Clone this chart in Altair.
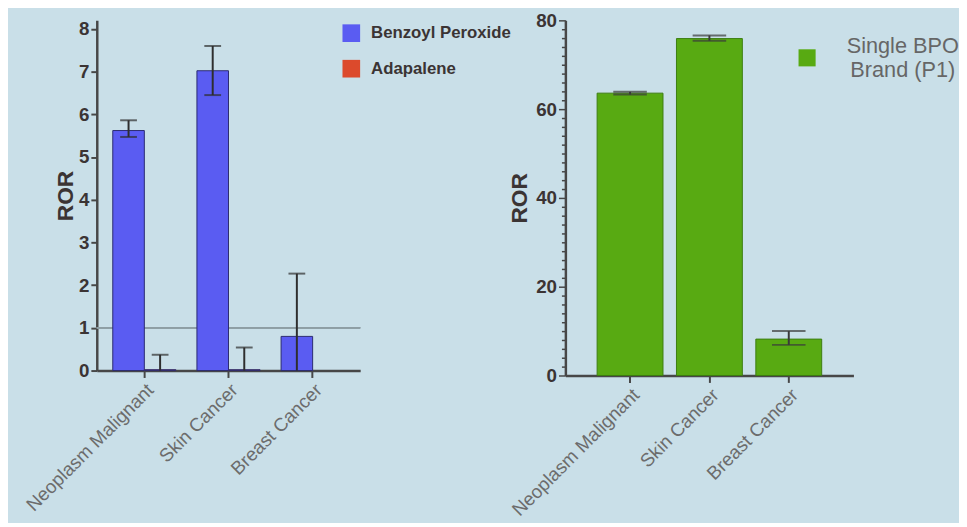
import altair as alt
import pandas as pd

# ---------------- data ----------------
categories = ["Neoplasm Malignant", "Skin Cancer", "Breast Cancer"]
left_series = ["Benzoyl Peroxide", "Adapalene"]
bpo_ror = [5.62, 7.02, 0.80]
bpo_low = [5.47, 6.45, 0.0]
bpo_high = [5.86, 7.60, 2.27]
ada_categories = ["Neoplasm Malignant", "Skin Cancer"]
ada_ror = [0.02, 0.02]
ada_low = [0.0, 0.0]
ada_high = [0.37, 0.54]
reference_ror = 1

right_series = ["Single BPO|Brand (P1)"]
p1_ror = [63.6, 75.9, 8.2]
p1_low = [63.3, 75.4, 6.9]
p1_high = [63.9, 76.6, 10.0]

left_ticks = [0, 1, 2, 3, 4, 5, 6, 7, 8]
right_ticks = list(range(0, 81, 2))

# ---------------- tables ----------------
left_rows = []
for c, v, lo, hi in zip(categories, bpo_ror, bpo_low, bpo_high):
    left_rows.append(dict(category=c, series=left_series[0], ror=v, low=lo, high=hi))
for c, v, lo, hi in zip(ada_categories, ada_ror, ada_low, ada_high):
    left_rows.append(dict(category=c, series=left_series[1], ror=v, low=lo, high=hi))
left_df = pd.DataFrame(left_rows)

right_df = pd.DataFrame(dict(category=categories, series=right_series * 3,
                             ror=p1_ror, low=p1_low, high=p1_high))

FONT = "Liberation Sans"
AX = "#474747"
TXT = "#3b3434"

# ---------------- left panel ----------------
xl = alt.X("category:N", sort=categories,
           scale=alt.Scale(paddingInner=0.25, paddingOuter=0.19),
           axis=alt.Axis(title=None, labelAngle=-45, labelFontSize=19, labelColor="#6c6c6c",
                         labelFont=FONT, labelPadding=3, labelLimit=0, tickSize=7, tickWidth=2,
                         tickColor=AX, domainColor=AX, domainWidth=2.5))
xo = alt.XOffset("series:N", sort=left_series, scale=alt.Scale(paddingInner=0, paddingOuter=0))
yl = alt.Y("ror:Q", scale=alt.Scale(domain=[0, 8.2], nice=False),
           axis=alt.Axis(values=left_ticks, tickCount=20, format="d", title="ROR", titleFontSize=23,
                         titleFont=FONT, titleColor=TXT, titleFontWeight="bold", titleX=-20,
                         labelFontSize=19, labelFontWeight="bold", labelColor=TXT, labelFont=FONT,
                         tickSize=6, tickWidth=2, tickColor=AX, domainColor=AX, domainWidth=2.5,
                         grid=False))
cl = alt.Color("series:N", sort=left_series,
               scale=alt.Scale(domain=left_series, range=["#5a5cf2", "#dc4a2c"]),
               legend=alt.Legend(title=None, orient="none", legendX=249, legendY=4,
                                 symbolType="square", symbolSize=320, symbolStrokeWidth=0,
                                 labelFontSize=17, labelFontWeight="bold", labelColor=TXT,
                                 labelFont=FONT, labelOffset=11, rowPadding=18, padding=0))

base_l = alt.Chart(left_df)
ref = base_l.mark_rule(color="#8e9ea4", strokeWidth=1.5).encode(y=alt.datum(reference_ror))
bars_l = base_l.mark_bar(stroke="#2b2b70", strokeWidth=1).encode(x=xl, xOffset=xo, y=yl, color=cl)
err_l = base_l.mark_rule(color="#2e2e2e", strokeWidth=2).encode(
    x=xl, xOffset=xo, y="low:Q", y2="high:Q")
cap_hi_l = base_l.mark_tick(color="#2e2e2e", size=17, thickness=2, orient="horizontal").encode(
    x=xl, xOffset=xo, y="high:Q")
cap_lo_l = base_l.transform_filter("datum.low > 0").mark_tick(
    color="#2e2e2e", size=17, thickness=2, orient="horizontal").encode(x=xl, xOffset=xo, y="low:Q")

left = alt.layer(ref, bars_l, err_l, cap_hi_l, cap_lo_l).properties(width=267, height=355)

# ---------------- right panel ----------------
xr = alt.X("category:N", sort=categories,
           scale=alt.Scale(paddingInner=0.17, paddingOuter=0.4),
           axis=alt.Axis(title=None, labelAngle=-45, labelFontSize=19, labelColor="#6c6c6c",
                         labelFont=FONT, labelPadding=3, labelLimit=0, tickSize=7, tickWidth=2,
                         tickColor=AX, domainColor=AX, domainWidth=2.5))
yr = alt.Y("ror:Q", scale=alt.Scale(domain=[0, 80], nice=False),
           axis=alt.Axis(values=right_ticks, tickCount=100, title="ROR", titleFontSize=23,
                         titleFont=FONT, titleColor=TXT, titleFontWeight="bold", titlePadding=4,
                         labelExpr="datum.value % 20 === 0 ? datum.label : ''",
                         labelOverlap=False, labelFlush=False,
                         labelFontSize=19, labelFontWeight="bold", labelColor=TXT, labelFont=FONT,
                         tickSize={"condition": {"test": "datum.value % 20 === 0", "value": 7}, "value": 4},
                         tickWidth=1.5, tickColor=AX, domainColor=AX, domainWidth=2.5,
                         grid=False))
cr = alt.Color("series:N",
               scale=alt.Scale(domain=right_series, range=["#58aa12"]),
               legend=alt.Legend(title=None, orient="none", legendX=234, legendY=27,
                                 symbolType="square", symbolSize=300, symbolStrokeWidth=0,
                                 labelExpr="split(datum.label, '|')", labelAlign="center",
                                 labelBaseline="bottom",
                                 labelFontSize=22, labelColor="#666666", labelFont=FONT,
                                 labelOffset=86, labelLimit=0, padding=0))

base_r = alt.Chart(right_df)
bars_r = base_r.mark_bar(stroke="#3c7d10", strokeWidth=1).encode(x=xr, y=yr, color=cr)
err_r = base_r.mark_rule(color="#3a3a3a", strokeWidth=2).encode(x=xr, y="low:Q", y2="high:Q")
cap_hi_r = base_r.mark_tick(color="#3a3a3a", size=34, thickness=2, orient="horizontal").encode(
    x=xr, y="high:Q")
cap_lo_r = base_r.mark_tick(color="#3a3a3a", size=34, thickness=2, orient="horizontal").encode(
    x=xr, y="low:Q")

right = alt.layer(bars_r, err_r, cap_hi_r, cap_lo_r).properties(width=292, height=360)

chart = alt.hconcat(left, right, spacing=208, bounds="flush").resolve_scale(
    color="independent", y="independent", x="independent"
).properties(
    background="#c9dfe8",
    padding={"left": 15, "top": 0, "right": 0, "bottom": 0},
).configure_view(stroke=None)

chart.save("out.html", embed_options={"renderer": "svg", "actions": False})
